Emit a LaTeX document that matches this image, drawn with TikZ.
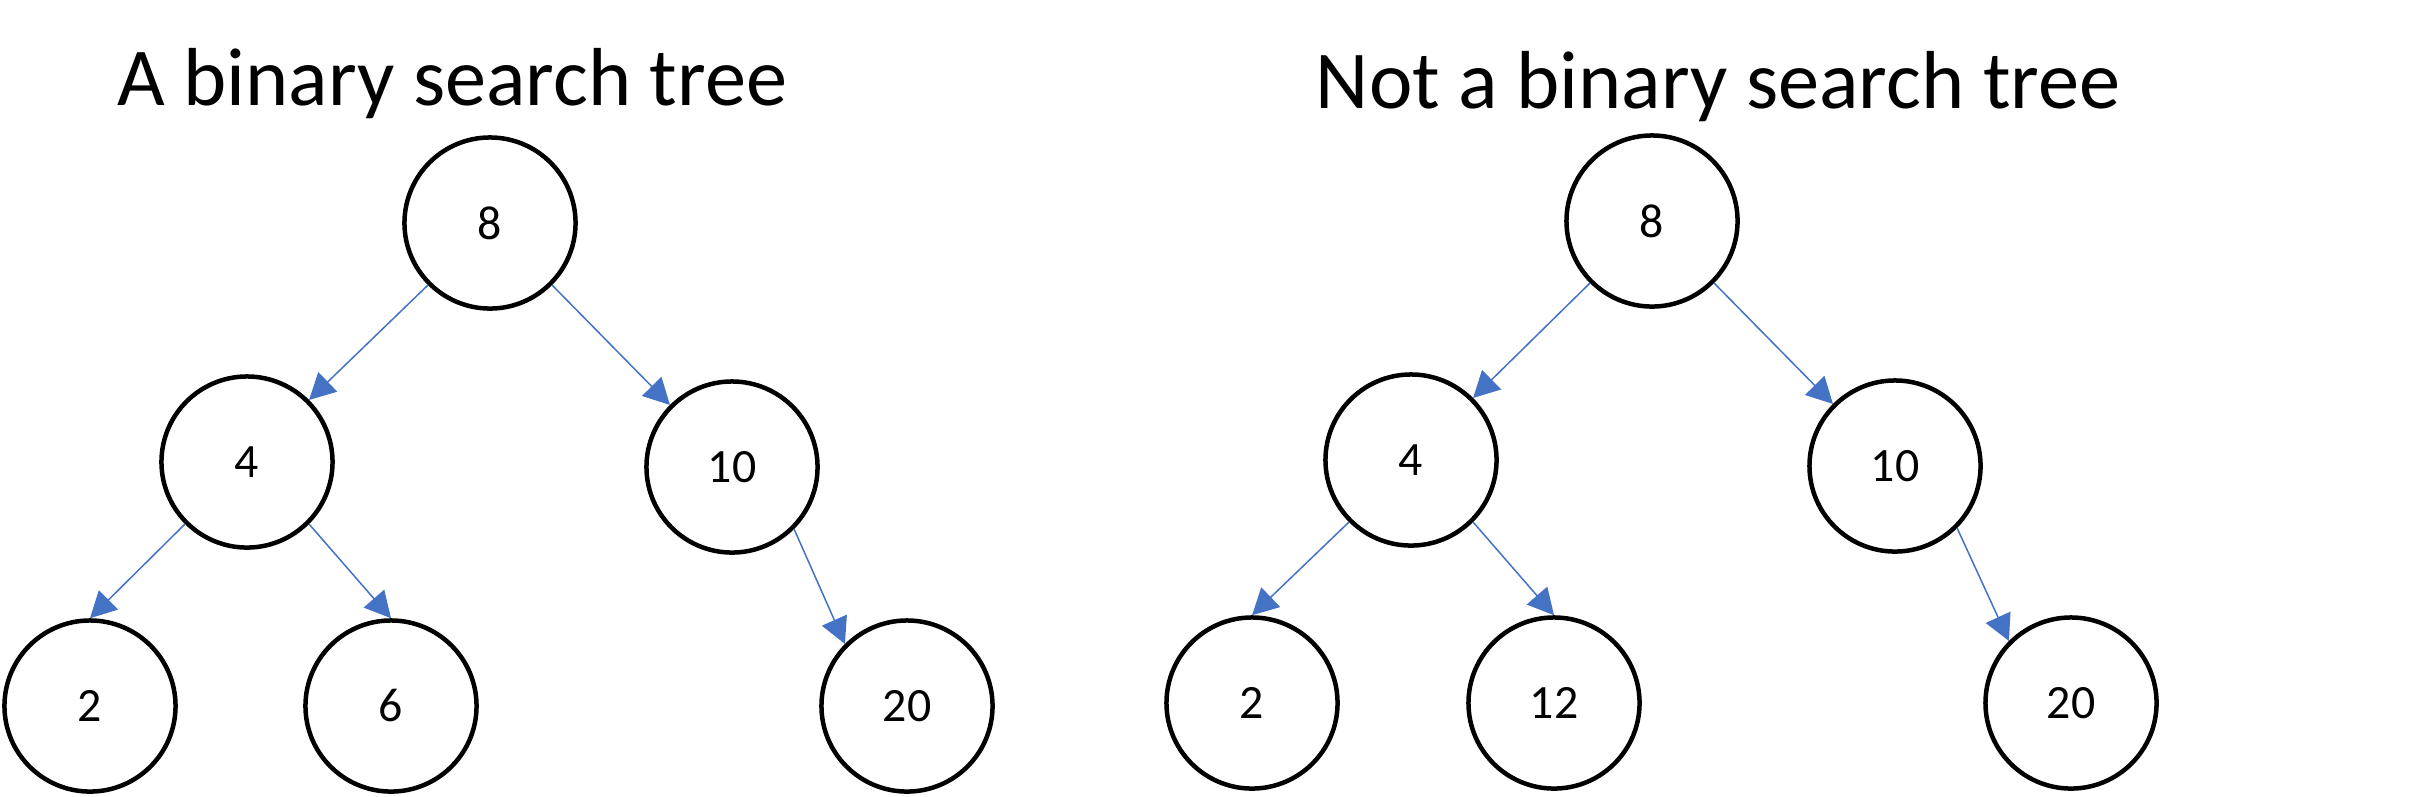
\documentclass[tikz,border=0pt]{standalone}
\usepackage{fontspec}
\setmainfont{Carlito}
\usetikzlibrary{arrows.meta}
\definecolor{edgeblue}{HTML}{4472C4}

\begin{document}
\begin{tikzpicture}[x=0.01cm,y=-0.01cm,
    keynode/.style={circle,draw,line width=0.045cm,minimum size=1.71cm,inner sep=0pt,font=\fontsize{13.6pt}{16pt}\selectfont},
    link/.style={draw=edgeblue,line width=0.015cm,-{Triangle[length=0.26cm,width=0.27cm]},fill=edgeblue},
    heading/.style={anchor=base,inner sep=0pt,font=\fontsize{23.4pt}{28pt}\selectfont}]
\useasboundingbox (0,0) rectangle (2425,796);

% the binary search tree
\node[heading] (title) at (452,105) {A binary search tree};
\node[keynode] (root) at (490,223) {8};
\node[keynode] (four) at (247,462) {4};
\node[keynode] (ten) at (732,467) {10};
\node[keynode] (two) at (90,706) {2};
\node[keynode] (six) at (391,706) {6};
\node[keynode] (twenty) at (907,706) {20};

\draw[link] (root.south west) -- (four.north east);
\draw[link] (root.south east) -- (ten.north west);
\draw[link] (four.south west) -- (two.north);
\draw[link] (four.south east) -- (six.north);
\draw[link] (ten.south east) -- (twenty.north west);

% not a binary search tree
\node[heading] (ntitle) at (1718,108) {Not a binary search tree};
\node[keynode] (nroot) at (1652,221) {8};
\node[keynode] (nfour) at (1411,460) {4};
\node[keynode] (nten) at (1895,466) {10};
\node[keynode] (ntwo) at (1252,703) {2};
\node[keynode] (ntwelve) at (1554,703) {12};
\node[keynode] (ntwenty) at (2071,703) {20};

\draw[link] (nroot.south west) -- (nfour.north east);
\draw[link] (nroot.south east) -- (nten.north west);
\draw[link] (nfour.south west) -- (ntwo.north);
\draw[link] (nfour.south east) -- (ntwelve.north);
\draw[link] (nten.south east) -- (ntwenty.north west);
\end{tikzpicture}
\end{document}
